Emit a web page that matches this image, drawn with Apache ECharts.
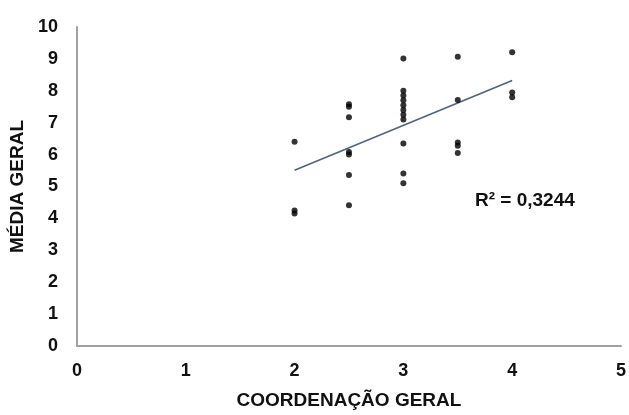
<!DOCTYPE html>
<html>
<head>
<meta charset="utf-8">
<script src="https://cdn.jsdelivr.net/npm/echarts@6/dist/echarts.min.js"></script>
<style>html,body{margin:0;padding:0;background:#fff;}#c{width:629px;height:415px;}</style>
</head>
<body>
<div id="c"></div>
<script>
const xValues = [2, 2, 2,
  2.5, 2.5, 2.5, 2.5, 2.5, 2.5, 2.5,
  3, 3, 3, 3, 3, 3, 3, 3, 3, 3, 3,
  3.5, 3.5, 3.5, 3.5, 3.5,
  4, 4, 4];
const yValues = [6.40, 4.25, 4.15,
  7.58, 7.50, 7.17, 6.08, 6.00, 5.36, 4.41,
  9.01, 8.00, 7.85, 7.70, 7.55, 7.40, 7.25, 7.10, 6.35, 5.41, 5.10,
  9.07, 7.71, 6.38, 6.28, 6.05,
  9.21, 7.95, 7.80];
const trendX = [2, 4];
const trendY = [5.51, 8.32];
const r2Label = 'R² = 0,3244';
const xTitle = 'COORDENAÇÃO GERAL';
const yTitle = 'MÉDIA GERAL';

const font = '"Liberation Sans", Arial, sans-serif';
const points = xValues.map((x, i) => [x, yValues[i]]);
const trend = trendX.map((x, i) => [x, trendY[i]]);

const chart = echarts.init(document.getElementById('c'));
chart.setOption({
  animation: false,
  grid: { left: 74, top: 27, right: 4, bottom: 62, containLabel: false },
  xAxis: {
    type: 'value', min: 0, max: 5, interval: 1,
    name: xTitle, nameLocation: 'middle', nameGap: 45,
    nameTextStyle: { fontFamily: font, fontWeight: 'bold', fontSize: 19, color: '#111' },
    axisLine: { show: true, onZero: false, lineStyle: { color: '#a0a0a0', width: 2 } },
    axisTick: { show: false },
    splitLine: { show: false },
    axisLabel: { margin: 16, fontFamily: font, fontWeight: 'bold', fontSize: 18, color: '#111' }
  },
  yAxis: {
    type: 'value', min: 0, max: 10, interval: 1,
    name: yTitle, nameLocation: 'middle', nameGap: 43,
    nameTextStyle: { fontFamily: font, fontWeight: 'bold', fontSize: 19, color: '#111' },
    axisLine: { show: true, onZero: false, lineStyle: { color: '#a0a0a0', width: 2 } },
    axisTick: { show: false },
    splitLine: { show: false },
    axisLabel: { margin: 19, fontFamily: font, fontWeight: 'bold', fontSize: 18, color: '#111' }
  },
  series: [
    {
      type: 'line', data: trend, symbol: 'none', silent: true,
      lineStyle: { color: '#4d6485', width: 1.6 }, z: 1
    },
    {
      type: 'scatter', data: points, symbol: 'circle', symbolSize: 6,
      itemStyle: { color: '#000' }, z: 2
    }
  ],
  graphic: [{
    type: 'text', left: 475, top: 191,
    style: { text: r2Label, font: 'bold 19px ' + font, fill: '#111' }
  }]
});
</script>
</body>
</html>
